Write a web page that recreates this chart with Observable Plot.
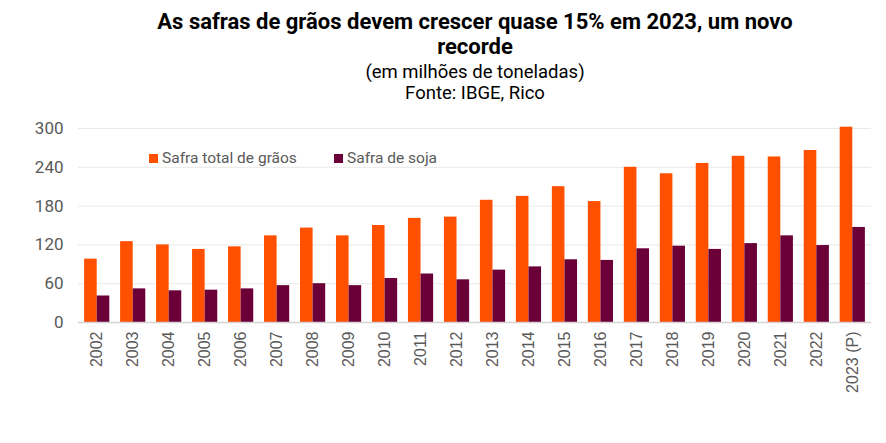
<!DOCTYPE html>
<html>
<head>
<meta charset="utf-8">
<script src="https://cdn.jsdelivr.net/npm/d3@7"></script>
<script src="https://cdn.jsdelivr.net/npm/@observablehq/plot@0.6"></script>
<style>
  html, body { margin: 0; padding: 0; background: #fff; }
  body { width: 886px; height: 443px; overflow: hidden; font-family: Roboto, "Noto Sans", sans-serif; }
  #wrap { position: relative; width: 886px; height: 443px; }
  #header { margin-left: 64px; width: 822px; height: 96px; text-align: center; padding-top: 9px; }
  #title { font-size: 22px; font-weight: bold; line-height: 25px; color: #000; }
  .sub { font-size: 18.5px; line-height: 21px; color: #000; }
  #legend { position: absolute; top: 149px; left: 0; font-size: 15.5px; color: #595959; }
  .item { position: absolute; white-space: nowrap; line-height: 18px; }
  .sw { display: inline-block; width: 9px; height: 9px; margin-right: 4px; vertical-align: 0px; }
</style>
</head>
<body>
<div id="wrap">
  <div id="header">
    <div id="title">As safras de grãos devem crescer quase 15% em 2023, um novo<br>recorde</div>
    <div class="sub" style="margin-top:3px">(em milhões de toneladas)</div>
    <div class="sub">Fonte: IBGE, Rico</div>
  </div>
  <div id="chart"></div>
  <div id="legend"></div>
</div>
<script>
const years = ["2002","2003","2004","2005","2006","2007","2008","2009","2010","2011","2012","2013","2014","2015","2016","2017","2018","2019","2020","2021","2022","2023 (P)"];
const series = ["Safra total de grãos", "Safra de soja"];
const safraTotal = [98, 125, 120, 113, 117, 134, 146, 134, 150, 161, 163, 189, 195, 210, 187, 240, 230, 246, 257, 256, 266, 302];
const safraSoja  = [41, 52, 49, 50, 52, 57, 60, 57, 68, 75, 66, 81, 86, 97, 96, 114, 118, 113, 122, 134, 119, 147];
const yTicks = [0, 60, 120, 180, 240, 300];
const colors = ["#FF5000", "#6B0039"];

const W = 886, mL = 78, mR = 15;
const padIn = 0.3, padOut = 0.17;
const bandwidth = (W - mL - mR) / (years.length - padIn + 2 * padOut) * (1 - padIn);
const half = bandwidth / 2;

const totalData = years.map((yr, i) => ({year: yr, value: safraTotal[i]}));
const sojaData = years.map((yr, i) => ({year: yr, value: safraSoja[i]}));

const chart = Plot.plot({
  width: W,
  height: 338,
  marginTop: 23,
  marginBottom: 121,
  marginLeft: mL,
  marginRight: mR,
  style: {fontFamily: "Roboto, 'Noto Sans', sans-serif", color: "#595959", background: "#fff"},
  x: {domain: years, paddingInner: padIn, paddingOuter: padOut, round: false, label: null},
  y: {domain: [0, 300], label: null},
  marks: [
    Plot.ruleY(yTicks.filter(d => d > 0), {stroke: "#e9e9e9", strokeWidth: 1}),
    Plot.barY(totalData, {x: "year", y: "value", fill: colors[0], insetRight: half}),
    Plot.barY(sojaData, {x: "year", y: "value", fill: colors[1], insetLeft: half}),
    Plot.ruleY([0], {stroke: "#d4d4d4", strokeWidth: 1.5}),
    Plot.axisY(yTicks, {tickSize: 0, tickPadding: 15, fontSize: 17, label: null, fill: "#595959"}),
    Plot.axisX({tickSize: 0, tickPadding: 9, tickRotate: -90, fontSize: 16, fontFamily: "'Liberation Sans', Arial, sans-serif", label: null, fill: "#595959"})
  ]
});
document.getElementById("chart").appendChild(chart);

const legend = document.getElementById("legend");
const legendX = [149, 334];
series.forEach((s, i) => {
  const it = document.createElement("div");
  it.className = "item";
  it.style.left = legendX[i] + "px";
  it.innerHTML = `<span class="sw" style="background:${colors[i]}"></span>${s}`;
  legend.appendChild(it);
});
</script>
</body>
</html>
